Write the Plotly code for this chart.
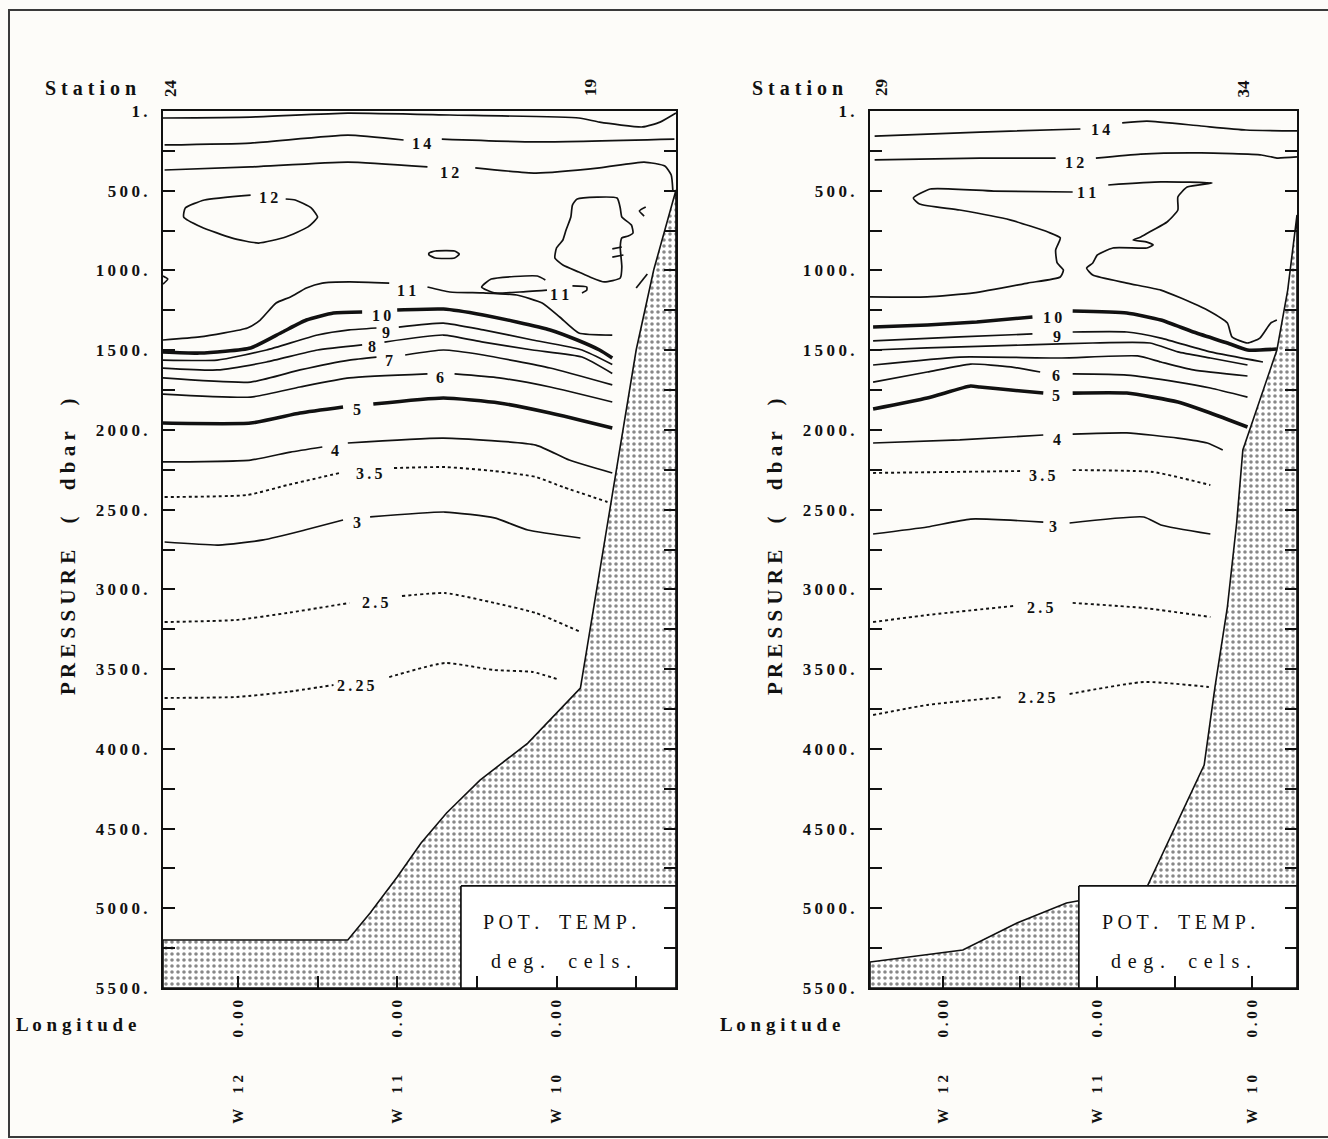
import plotly.graph_objects as go

FIG_W, FIG_H = 1328, 1139
P_MAX = 5500

# ---------------- Section A : stations 24 - 19 ----------------
A_LON_WEST, A_LON_EAST = 12.47, 9.25
A_STATION_LON = [12.47, 11.91, 11.31, 10.71, 10.12, 9.84, 9.64, 9.44]
A_STATION_TXT = ["24", "", "", "", "", "19", "", ""]

A_T15_LON = [12.47, 11.92, 11.31, 10.67, 9.86, 9.73, 9.46, 9.35, 9.25]
A_T15_P = [44, 38, 13, 25, 44, 70, 100, 70, 13]
A_T14_LON = [12.46, 11.92, 11.31, 10.96, None, 10.72, 10.13, 9.26]
A_T14_P = [213, 201, 151, 182, None, 176, 194, 176]
A_T12_LON = [12.46, 11.92, 11.31, 10.81, None, 10.51, 10.13, 9.73, 9.45, 9.32, 9.28, 9.27]
A_T12_P = [370, 351, 320, 351, None, 357, 389, 357, 320, 345, 401, 495]
A_T12_LOOP_LON = [11.70, 11.64, 11.54, 11.50, 11.56, 11.70, 11.87, 12.04, 12.23, 12.34, 12.33, 12.21, 11.92]
A_T12_LOOP_P = [552, 558, 608, 665, 727, 790, 828, 796, 727, 665, 608, 558, 527]
A_CORE_LON = [9.87, 9.62, 9.60, 9.59, 9.53, 9.52, 9.55, 9.59, 9.60, 9.59, 9.60, 9.70, 9.79, 9.86,
              9.96, 10.01, 10.00, 9.96, 9.94, 9.91, 9.90, 9.87]
A_CORE_P = [552, 546, 608, 665, 715, 765, 784, 796, 853, 978, 1047, 1072, 1041, 1010,
            966, 922, 859, 809, 746, 665, 590, 552]
A_FRAG_LON = [9.44, 9.48, 9.45, None, 9.65, 9.59, None, 9.65, 9.58, None, 9.50, 9.43, None,
              10.80, 10.76, 10.64, 10.61, 10.64, 10.76, 10.80, 10.80, None, 12.47, 12.44, 12.47]
A_FRAG_P = [602, 627, 659, None, 865, 853, None, 916, 903, None, 1110, 1022, None,
            891, 878, 878, 897, 922, 922, 903, 891, None, 1035, 1054, 1085]
A_T11_LON = [12.47, 12.24, 11.94, 11.86, 11.76, 11.67, 11.57, 11.47, 11.30, 11.05, None,
             10.81, 10.67, 10.46, 10.25, 10.09, 9.98, 9.86, 9.65]
A_T11_P = [1436, 1417, 1361, 1311, 1204, 1166, 1110, 1079, 1072, 1079, None,
           1104, 1135, 1141, 1154, 1204, 1292, 1392, 1405]
A_T11_LENS_LON = [10.06, 10.23, 10.39, 10.47, 10.41, 10.12, 10.07, None, 9.90, 9.81, 9.81, 9.84]
A_T11_LENS_P = [1123, 1135, 1141, 1104, 1054, 1035, 1060, None, 1097, 1104, 1123, 1141]
A_T10_LON = [12.47, 12.24, 11.92, 11.72, 11.57, 11.40, 11.22, None, 11.00, 10.71, 10.46, 10.25, 10.04, 9.87, 9.73, 9.65]
A_T10_P = [1511, 1518, 1486, 1386, 1311, 1267, 1261, None, 1248, 1242, 1279, 1323, 1373, 1436, 1499, 1549]
A_T9_LON = [12.47, 12.13, 11.82, 11.50, 11.30, 11.13, None, 10.99, 10.71, 10.46, 10.15, 9.84, 9.65]
A_T9_P = [1562, 1562, 1499, 1405, 1373, 1361, None, 1355, 1330, 1373, 1436, 1499, 1590]
A_T8_LON = [12.47, 12.13, 11.82, 11.50, 11.22, None, 11.08, 10.71, 10.46, 10.15, 9.84, 9.65]
A_T8_P = [1612, 1624, 1574, 1499, 1467, None, 1449, 1405, 1449, 1499, 1543, 1646]
A_T7_LON = [12.47, 11.92, 11.61, 11.30, 11.13, None, 10.95, 10.71, 10.46, 10.04, 9.65]
A_T7_P = [1674, 1700, 1624, 1562, 1543, None, 1530, 1499, 1530, 1612, 1718]
A_T6_LON = [12.47, 11.92, 11.61, 11.30, 10.81, None, 10.64, 10.36, 10.04, 9.65]
A_T6_P = [1775, 1794, 1731, 1674, 1649, None, 1649, 1674, 1731, 1825]
A_T5_LON = [12.47, 11.92, 11.61, 11.34, None, 11.15, 10.71, 10.36, 10.04, 9.65]
A_T5_P = [1957, 1957, 1894, 1856, None, 1838, 1800, 1831, 1894, 1988]
A_T4_LON = [12.47, 11.92, 11.67, 11.47, None, 11.31, 10.71, 10.13, 9.92, 9.65]
A_T4_P = [2201, 2189, 2139, 2107, None, 2082, 2051, 2095, 2189, 2270]
A_T35_LON = [12.46, 11.94, 11.69, 11.36, None, 11.02, 10.70, 10.39, 10.13, 9.96, 9.68]
A_T35_P = [2421, 2408, 2346, 2270, None, 2239, 2233, 2258, 2295, 2358, 2452]
A_T3_LON = [12.46, 12.12, 11.84, 11.58, 11.34, None, 11.17, 10.70, 10.39, 10.18, 9.85]
A_T3_P = [2703, 2722, 2690, 2628, 2565, None, 2546, 2515, 2552, 2628, 2678]
A_T25_LON = [12.46, 12.01, 11.69, 11.30, None, 10.97, 10.70, 10.39, 10.13, 9.85]
A_T25_P = [3205, 3192, 3148, 3085, None, 3042, 3023, 3085, 3148, 3267]
A_T225_LON = [12.46, 12.01, 11.69, 11.40, None, 11.05, 10.70, 10.39, 10.15, 9.98]
A_T225_P = [3681, 3675, 3643, 3600, None, 3550, 3462, 3506, 3518, 3568]

A_LABEL_TXT = ["14", "12", "12", "11", "11", "10", "9", "8", "7", "6", "5", "4", "3.5", "3", "2.5", "2.25"]
A_LABEL_LON = [10.85, 10.67, 11.81, 10.94, 9.98, 11.10, 11.07, 11.16, 11.05, 10.73, 11.25, 11.39, 11.18, 11.25, 11.14, 11.26]
A_LABEL_P = [201, 383, 540, 1123, 1148, 1282, 1386, 1480, 1562, 1674, 1875, 2126, 2273, 2578, 3085, 3603]

A_BOTTOM_LON = [12.47, 11.31, 11.17, 11.00, 10.85, 10.69, 10.48, 10.18, 9.85, 9.50, 9.39, 9.25]
A_BOTTOM_P = [5199, 5199, 5030, 4804, 4591, 4402, 4196, 3964, 3619, 1499, 997, 495]

# ---------------- Section B : stations 29 - 34 ----------------
B_LON_WEST, B_LON_EAST = 12.47, 9.71
B_STATION_LON = [12.47, 11.82, 11.16, 10.68, 10.26, 10.03, 9.83]
B_STATION_TXT = ["29", "", "", "", "", "34", ""]

B_T14_LON = [12.44, 11.76, 11.11, None, 10.84, 10.68, 10.33, 10.04, 9.71]
B_T14_P = [157, 132, 113, None, 75, 63, 94, 119, 125]
B_T12_LON = [12.44, 11.76, 11.27, None, 11.01, 10.72, 10.33, 9.94, 9.84, 9.71]
B_T12_P = [307, 295, 295, None, 295, 270, 263, 276, 295, 288]
B_T11_LON = [12.47, 12.10, 11.80, 11.45, 11.24, 11.22, 11.26, 11.27, 11.24, 11.32, 11.56, 11.89, 12.15,
             12.19, 12.08, 11.67, 11.16, None,
             10.93, 10.59, 10.26, 10.42, 10.48, 10.48, 10.55, 10.64, 10.72, 10.77, 10.68, 10.64, 10.68,
             10.90, 11.00, 11.03, 11.07, 11.03, 10.81, 10.59, 10.46, 10.29, 10.16, 10.13, 10.03, 9.95,
             9.88, 9.84]
B_T11_P = [1166, 1166, 1141, 1079, 1041, 997, 953, 872, 796, 759, 684, 621, 583,
           546, 489, 502, 508, None,
           464, 445, 452, 477, 539, 621, 696, 746, 790, 809, 822, 840, 859,
           859, 903, 953, 985, 1029, 1079, 1123, 1173, 1248, 1330, 1417, 1455, 1424,
           1330, 1311]
B_T10_LON = [12.45, 12.10, 11.78, 11.42, None, 11.16, 10.81, 10.59, 10.38, 10.16, 10.03, 9.84]
B_T10_P = [1355, 1342, 1323, 1292, None, 1254, 1267, 1311, 1386, 1455, 1499, 1493]
B_T9_LON = [12.45, 11.89, 11.42, None, 11.16, 10.81, 10.59, 10.27, 9.93]
B_T9_P = [1442, 1417, 1398, None, 1386, 1386, 1424, 1511, 1574]
B_T8_LON = [12.45, 12.10, 11.45, 11.03, 10.66, 10.48, 10.27, 10.03]
B_T8_P = [1499, 1486, 1467, 1455, 1455, 1511, 1549, 1593]
B_T7_LON = [12.45, 11.89, 11.24, 10.74, 10.59, 10.38, 10.03]
B_T7_P = [1593, 1543, 1549, 1536, 1574, 1624, 1662]
B_T6_LON = [12.45, 12.10, 11.82, 11.56, 11.37, None, 11.16, 10.81, 10.48, 10.27, 10.03]
B_T6_P = [1700, 1637, 1587, 1605, 1637, None, 1649, 1656, 1700, 1737, 1794]
B_T5_LON = [12.45, 12.10, 11.82, 11.76, 11.56, 11.35, None, 11.16, 10.81, 10.48, 10.27, 10.03]
B_T5_P = [1869, 1800, 1725, 1731, 1750, 1769, None, 1769, 1769, 1825, 1894, 1982]
B_T4_LON = [12.45, 11.89, 11.35, None, 11.16, 10.81, 10.48, 10.29, 10.19]
B_T4_P = [2082, 2063, 2032, None, 2026, 2019, 2051, 2082, 2126]
B_T35_LON = [12.45, 11.50, None, 11.16, 10.64, 10.27]
B_T35_P = [2270, 2258, None, 2252, 2264, 2346]
B_T3_LON = [12.45, 12.10, 11.82, 11.35, None, 11.18, 10.70, 10.59, 10.27]
B_T3_P = [2653, 2609, 2559, 2578, None, 2584, 2546, 2596, 2653]
B_T25_LON = [12.45, 12.10, 11.54, None, 11.16, 10.70, 10.27]
B_T25_P = [3205, 3161, 3104, None, 3085, 3117, 3173]
B_T225_LON = [12.45, 12.10, 11.61, None, 11.18, 10.70, 10.28]
B_T225_P = [3788, 3725, 3675, None, 3656, 3581, 3612]

B_LABEL_TXT = ["14", "12", "11", "10", "9", "6", "5", "4", "3.5", "3", "2.5", "2.25"]
B_LABEL_LON = [10.98, 11.15, 11.07, 11.29, 11.26, 11.27, 11.27, 11.26, 11.36, 11.29, 11.37, 11.39]
B_LABEL_P = [119, 326, 508, 1292, 1417, 1656, 1787, 2063, 2283, 2603, 3111, 3681]

B_BOTTOM_LON = [12.47, 11.87, 11.52, 11.20, 10.92, 10.68, 10.31, 10.24, 10.16, 10.10, 10.06, 9.95, 9.84, 9.77, 9.71]
B_BOTTOM_P = [5337, 5262, 5092, 4967, 4917, 4867, 4102, 3612, 3111, 2584, 2126, 1812, 1499, 1123, 652]

# axes
P_TICKS = list(range(0, P_MAX + 1, 250))
LON_TICKS = [12.0, 11.5, 11.0, 10.5, 10.0, 9.5]
LEGEND_TITLE = "POT. TEMP."
LEGEND_UNIT = "deg. cels."

# ---------------- styling ----------------
INK = "#111111"
PAPER = "#fdfcf9"
SERIF = "Liberation Serif, DejaVu Serif, serif"
NBSP = "\u00a0"


def track(s, gap=" ", word=NBSP * 2):
    """Letter-space a string the way the plotter lettering is spaced."""
    return gap.join(word if c == " " else c for c in s)


def px_x(x):
    return x / FIG_W


def px_y(y):
    return 1 - y / FIG_H


STYLE = {
    "thin": dict(color=INK, width=1.7),
    "thick": dict(color=INK, width=3.6),
    "dot": dict(color=INK, width=1.9, dash="3px,3px"),
}

A_LINES = [
    (A_T15_LON, A_T15_P, "thin"), (A_T14_LON, A_T14_P, "thin"), (A_T12_LON, A_T12_P, "thin"),
    (A_T12_LOOP_LON, A_T12_LOOP_P, "thin"), (A_CORE_LON, A_CORE_P, "thin"),
    (A_FRAG_LON, A_FRAG_P, "thin"), (A_T11_LON, A_T11_P, "thin"),
    (A_T11_LENS_LON, A_T11_LENS_P, "thin"), (A_T10_LON, A_T10_P, "thick"),
    (A_T9_LON, A_T9_P, "thin"), (A_T8_LON, A_T8_P, "thin"), (A_T7_LON, A_T7_P, "thin"),
    (A_T6_LON, A_T6_P, "thin"), (A_T5_LON, A_T5_P, "thick"), (A_T4_LON, A_T4_P, "thin"),
    (A_T35_LON, A_T35_P, "dot"), (A_T3_LON, A_T3_P, "thin"), (A_T25_LON, A_T25_P, "dot"),
    (A_T225_LON, A_T225_P, "dot"),
]
B_LINES = [
    (B_T14_LON, B_T14_P, "thin"), (B_T12_LON, B_T12_P, "thin"), (B_T11_LON, B_T11_P, "thin"),
    (B_T10_LON, B_T10_P, "thick"), (B_T9_LON, B_T9_P, "thin"), (B_T8_LON, B_T8_P, "thin"),
    (B_T7_LON, B_T7_P, "thin"), (B_T6_LON, B_T6_P, "thin"), (B_T5_LON, B_T5_P, "thick"),
    (B_T4_LON, B_T4_P, "thin"), (B_T35_LON, B_T35_P, "dot"), (B_T3_LON, B_T3_P, "thin"),
    (B_T25_LON, B_T25_P, "dot"), (B_T225_LON, B_T225_P, "dot"),
]

SECTIONS = [
    dict(xa="x", ya="y", lines=A_LINES, west=A_LON_WEST, east=A_LON_EAST,
         bot_lon=A_BOTTOM_LON, bot_p=A_BOTTOM_P,
         lab=(A_LABEL_TXT, A_LABEL_LON, A_LABEL_P),
         st_lon=A_STATION_LON, st_txt=A_STATION_TXT, st_shift=[7, 0, 0, 0, 0, 8, 0, 0],
         dom=(163, 676), box_left=10.60, station_right=138, pres_x=68, lon_x=14),
    dict(xa="x2", ya="y2", lines=B_LINES, west=B_LON_WEST, east=B_LON_EAST,
         bot_lon=B_BOTTOM_LON, bot_p=B_BOTTOM_P,
         lab=(B_LABEL_TXT, B_LABEL_LON, B_LABEL_P),
         st_lon=B_STATION_LON, st_txt=B_STATION_TXT, st_shift=[11, 0, 0, 0, 0, -4, 0],
         dom=(870, 1297), box_left=11.12, station_right=845, pres_x=775, lon_x=718),
]

fig = go.Figure()
annotations = []
Y_DOMAIN = [px_y(988), px_y(111)]
BOLD = dict(family=SERIF, color=INK, weight="bold")


def note(**kw):
    base = dict(showarrow=False, xanchor="center", yanchor="middle")
    base.update(kw)
    annotations.append(base)


for s in SECTIONS:
    common = dict(xaxis=s["xa"], yaxis=s["ya"], hoverinfo="skip", showlegend=False)
    # isotherms
    for lon, p, kind in s["lines"]:
        fig.add_trace(go.Scatter(x=lon, y=p, mode="lines",
                                 line=dict(**STYLE[kind], shape="spline", smoothing=0.5),
                                 connectgaps=False, **common))
    # sea floor, stippled
    fig.add_trace(go.Scatter(
        x=s["bot_lon"] + [s["east"], s["west"], s["bot_lon"][0]],
        y=s["bot_p"] + [P_MAX, P_MAX, s["bot_p"][0]],
        mode="lines", fill="toself", fillcolor="white",
        fillpattern=dict(shape=".", fgcolor=INK, bgcolor="white", size=6, solidity=0.28),
        line=dict(color=INK, width=1.6), **common))
    # legend panel
    fig.add_trace(go.Scatter(
        x=[s["box_left"], s["east"], s["east"], s["box_left"], s["box_left"]],
        y=[4860, 4860, P_MAX, P_MAX, 4860],
        mode="lines", fill="toself", fillcolor="white",
        line=dict(color=INK, width=1.7), **common))

    # contour labels
    txt, llon, lp = s["lab"]
    for t, x, y in zip(txt, llon, lp):
        note(x=x, y=y, xref=s["xa"], yref=s["ya"], text=track(t, "\u2009"), font=dict(**BOLD, size=16))
    # station numbers
    for x, t, dx in zip(s["st_lon"], s["st_txt"], s["st_shift"]):
        if t:
            note(x=x, y=px_y(88), xref=s["xa"], yref="paper", text=t, textangle=-90, xshift=dx,
                 font=dict(**BOLD, size=17))
    mid = (s["box_left"] + s["east"]) / 2
    note(x=px_x(s["station_right"]), y=px_y(88), xref="paper", yref="paper", xanchor="right",
         text=track("Station"), font=dict(**BOLD, size=20))
    note(x=px_x(s["pres_x"]), y=px_y(547), xref="paper", yref="paper", textangle=-90,
         text=track("PRESSURE ( dbar )", " ", NBSP * 3), font=dict(**BOLD, size=21))
    note(x=px_x(s["lon_x"]), y=px_y(1024), xref="paper", yref="paper", xanchor="left",
         text=track("Longitude"), font=dict(**BOLD, size=19))
    note(x=mid, y=px_y(922), xref=s["xa"], yref="paper", xshift=-9, text=track(LEGEND_TITLE),
         font=dict(family=SERIF, size=20, color=INK))
    note(x=mid, y=px_y(961), xref=s["xa"], yref="paper", xshift=-7,
         text=track(LEGEND_UNIT, " \u200a", NBSP * 2), font=dict(family=SERIF, size=20, color=INK))

p_text = [track("1." if v == 0 else f"{v}.", "\u2009") if v % 500 == 0 else "" for v in P_TICKS]
lon_text = ["W" + NBSP * 4 + track(str(int(v))) + NBSP * 10 + track("0.00") if v == int(v) else ""
            for v in LON_TICKS]

for i, s in enumerate(SECTIONS):
    x0, x1 = s["dom"]
    sfx = "" if i == 0 else "2"
    top = "3" if i == 0 else "4"
    fig.update_layout(**{
        "xaxis" + sfx: dict(domain=[px_x(x0), px_x(x1)], range=[s["west"], s["east"]], anchor=s["ya"],
                            tickvals=LON_TICKS, ticktext=lon_text, tickangle=-90, ticks="inside",
                            ticklen=12, tickwidth=1.7, tickcolor=INK, showline=True, linewidth=2,
                            linecolor=INK, mirror=True, showgrid=False, zeroline=False,
                            automargin=False, tickfont=dict(**BOLD, size=15), ticklabelstandoff=4),
        "yaxis" + sfx: dict(domain=Y_DOMAIN, range=[P_MAX, 0], anchor=s["xa"], tickvals=P_TICKS,
                            ticktext=p_text, ticks="inside", ticklen=12, tickwidth=1.7, tickcolor=INK,
                            showline=True, linewidth=2, linecolor=INK, mirror="ticks", showgrid=False,
                            zeroline=False, automargin=False, tickfont=dict(**BOLD, size=17),
                            ticklabelstandoff=10),
        "xaxis" + top: dict(domain=[px_x(x0), px_x(x1)], range=[s["west"], s["east"]],
                            overlaying=s["xa"], anchor=s["ya"], side="top", tickvals=s["st_lon"],
                            ticks="inside", ticklen=12, tickwidth=1.7, tickcolor=INK,
                            showticklabels=False, showline=True, linewidth=3, linecolor=INK,
                            showgrid=False, zeroline=False, automargin=False),
    })

fig.update_layout(
    width=FIG_W, height=FIG_H, margin=dict(l=0, r=0, t=0, b=0, autoexpand=False), autosize=False,
    paper_bgcolor=PAPER, plot_bgcolor="rgba(0,0,0,0)",
    annotations=annotations,
    shapes=[dict(type="rect", xref="paper", yref="paper", x0=px_x(9), x1=1.02, y0=px_y(1137), y1=px_y(10),
                 line=dict(color="#3a3a3a", width=2), layer="below")],
)

# page without the default body margin so the figure sits flush in the window
fig.write_html("out.html",
               post_script="document.body.style.margin='0';document.body.style.overflow='hidden';")
